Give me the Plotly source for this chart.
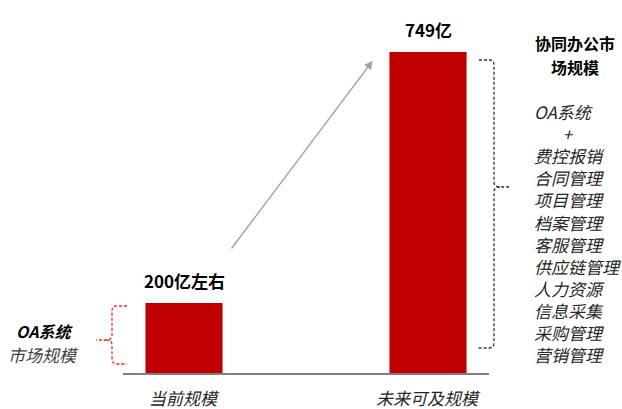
import plotly.graph_objects as go

categories = ["当前规模", "未来可及规模"]
values = [200, 749]
value_labels = ["200亿左右", "749亿"]
left_title = "OA系统"
left_sub = "市场规模"
right_title = ["协同办公市", "场规模"]
right_items = ["OA系统", "+", "费控报销", "合同管理", "项目管理", "档案管理", "客服管理",
               "供应链管理", "人力资源", "信息采集", "采购管理", "营销管理"]

BAR_BASE = 47
CJK = "Noto Sans CJK SC, Noto Sans, sans-serif"
W, H = 622, 409
ML, MR, MT, MB = 123, 133, 0, 36
PW, PH = W - ML - MR, H - MT - MB

fig = go.Figure()
fig.add_trace(go.Bar(
    x=[0, 1], y=[v - BAR_BASE for v in values], base=BAR_BASE,
    marker=dict(color="#c00000", line=dict(width=0)),
    width=0.316, hoverinfo="skip",
))

# value labels above bars
for i, (v, t) in enumerate(zip(values, value_labels)):
    fig.add_annotation(x=i, y=v, xref="x", yref="y", text=t, showarrow=False,
                       yanchor="middle", yshift=23,
                       font=dict(family=CJK, size=17, color="#000000", weight="bold"))

# category labels
for i, c in enumerate(categories):
    fig.add_annotation(x=i, y=0, xref="x", yref="paper", text=c, showarrow=False,
                       yanchor="middle", yshift=-24, borderpad=0,
                       font=dict(family=CJK, size=17, color="#262626", style="italic"))

# growth arrow
fig.add_annotation(x=0.773, y=730, ax=0.19, ay=316, xref="x", yref="y", axref="x", ayref="y",
                   showarrow=True, arrowhead=2, arrowsize=1.2, arrowwidth=1.4,
                   arrowcolor="#a0a0a0", text="")

def px(x):
    return (x - ML) / PW

def py(y):
    return (MT + PH - y) / PH

# left red dashed brace
left_path = (f"M {px(127)} {py(306)} L {px(116)} {py(306)} Q {px(112)} {py(306)} {px(112)} {py(311)} "
             f"L {px(112)} {py(335)} Q {px(112)} {py(340)} {px(106)} {py(340)} L {px(96)} {py(340)} "
             f"M {px(106)} {py(340)} Q {px(112)} {py(340)} {px(112)} {py(345)} "
             f"L {px(112)} {py(359)} Q {px(112)} {py(364)} {px(117)} {py(364)} L {px(127)} {py(364)}")
fig.add_shape(type="path", path=left_path, xref="paper", yref="paper",
              line=dict(color="#ff2020", width=1.3, dash="3px,2px"))

# right black dashed brace
right_path = (f"M {px(479)} {py(60)} L {px(490)} {py(60)} Q {px(494)} {py(60)} {px(494)} {py(65)} "
              f"L {px(494)} {py(182)} Q {px(494)} {py(187)} {px(500)} {py(187)} L {px(511)} {py(187)} "
              f"M {px(500)} {py(187)} Q {px(494)} {py(187)} {px(494)} {py(192)} "
              f"L {px(494)} {py(343)} Q {px(494)} {py(348)} {px(489)} {py(348)} L {px(478)} {py(348)}")
fig.add_shape(type="path", path=right_path, xref="paper", yref="paper",
              line=dict(color="#333333", width=1.3, dash="3px,2px"))

# left text
fig.add_annotation(x=px(44), y=py(331), xref="paper", yref="paper", text=left_title,
                   showarrow=False, xanchor="center", yanchor="middle",
                   font=dict(family=CJK, size=16, color="#000000", weight="bold", style="italic"))
fig.add_annotation(x=px(43), y=py(354), xref="paper", yref="paper", text=left_sub,
                   showarrow=False, xanchor="center", yanchor="middle",
                   font=dict(family=CJK, size=17, color="#404040", style="italic"))

# right title
for j, t in enumerate(right_title):
    fig.add_annotation(x=px(575), y=py(43 + 24 * j), xref="paper", yref="paper", text=t,
                       showarrow=False, xanchor="center", yanchor="middle", borderpad=0,
                       font=dict(family=CJK, size=16, color="#000000", weight="bold"))

# right list (single block, "+" indented to sit centred)
lines = [("　&nbsp;&nbsp;&nbsp;" + t) if t == "+" else t for t in right_items]
fig.add_annotation(x=px(532), y=py(233), xref="paper", yref="paper",
                   text="<br>".join(lines), align="left",
                   showarrow=False, xanchor="left", yanchor="middle",
                   font=dict(family=CJK, size=17, color="#262626", style="italic"))

fig.update_layout(
    width=W, height=H,
    margin=dict(l=ML, r=MR, t=MT, b=MB),
    plot_bgcolor="white", paper_bgcolor="white",
    showlegend=False,
    xaxis=dict(range=[-0.25, 1.25], showgrid=False, zeroline=False, showticklabels=False,
               showline=True, linecolor="#7f7f7f", linewidth=2, ticks=""),
    yaxis=dict(range=[BAR_BASE, 863], visible=False, showgrid=False, zeroline=False),
)

fig.write_html("out.html")
